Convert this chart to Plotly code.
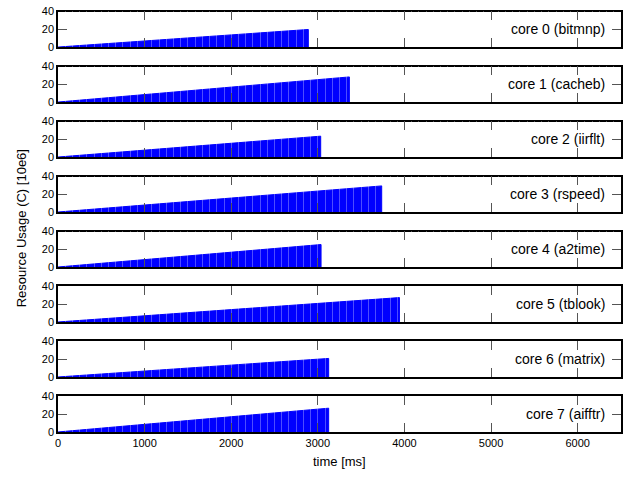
import plotly.graph_objects as go

# data
cores = ["core 0 (bitmnp)", "core 1 (cacheb)", "core 2 (iirflt)", "core 3 (rspeed)",
         "core 4 (a2time)", "core 5 (tblook)", "core 6 (matrix)", "core 7 (aifftr)"]
end_time = [2890, 3364, 3033, 3738, 3037, 3942, 3125, 3125]      # ms
peak_usage = [19.8, 28.3, 23.5, 29.4, 25.3, 27.5, 20.9, 26.8]    # 10e6
x_ticks = [0, 1000, 2000, 3000, 4000, 5000, 6000]
y_ticks = [0, 20, 40]
bin_ms = 1000 / 12   # width of the histogram bins

W, H = 638, 479
L, R = 58, 621
FONT = "Liberation Sans, Arial, Helvetica, sans-serif"
fig = go.Figure()

top0, pitch, ph = 5.7, 56.4, 36.4
for i, name in enumerate(cores):
    xa = "x" if i == 0 else f"x{i+1}"
    ya = "y" if i == 0 else f"y{i+1}"
    fig.add_trace(go.Scatter(
        x=[0, end_time[i], end_time[i]], y=[0, peak_usage[i], 0],
        mode="lines", line=dict(color="#0000ff", width=1),
        fill="toself", fillcolor="#0000ff",
        xaxis=xa, yaxis=ya, showlegend=False, hoverinfo="skip"))
    top = top0 + pitch * i
    bot = top + ph
    dom = [1 - bot / H, 1 - top / H]
    xkey = "xaxis" if i == 0 else f"xaxis{i+1}"
    ykey = "yaxis" if i == 0 else f"yaxis{i+1}"
    fig.layout[xkey] = dict(
        range=[0, 6500], anchor=ya, domain=[0, 1], layer="above traces",
        showline=True, linecolor="black", linewidth=1.5, mirror="ticks",
        ticks="inside", ticklen=9, tickcolor="#555555", tickwidth=1,
        tickvals=x_ticks, showticklabels=(i == len(cores) - 1),
        tickfont=dict(family=FONT, size=11, color="black"),
        minor=dict(ticks="inside", tick0=0, dtick=bin_ms, ticklen=int(ph / 2) + 1,
                   tickcolor="rgba(255,255,255,0.3)", tickwidth=1, showgrid=False),
        showgrid=False, zeroline=False, fixedrange=True,
        matches=None if i == 0 else "x")
    fig.layout[ykey] = dict(
        range=[0, 40], anchor=xa, domain=dom, layer="above traces",
        showline=True, linecolor="black", linewidth=1.5, mirror="ticks",
        ticks="inside", ticklen=9, tickcolor="#555555", tickwidth=1,
        tickvals=y_ticks, tickfont=dict(family=FONT, size=11, color="black"),
        showgrid=False, zeroline=False, fixedrange=True)
    fig.add_annotation(
        x=6340, y=20, xref=xa, yref=ya, text=name, showarrow=False,
        xanchor="right", yanchor="middle",
        font=dict(family=FONT, size=14, color="black"))

fig.add_annotation(x=0.5, y=1 - 467 / H, xref="paper", yref="paper", text="time [ms]",
                   showarrow=False, xanchor="center", yanchor="middle",
                   font=dict(family=FONT, size=13, color="black"))
fig.add_annotation(x=(21 - L) / (R - L), y=1 - 228 / H, xref="paper", yref="paper",
                   text="Resource Usage (C) [10e6]", textangle=-90, showarrow=False,
                   xanchor="center", yanchor="middle",
                   font=dict(family=FONT, size=13, color="black"))

fig.update_layout(width=W, height=H, margin=dict(l=L, r=W - R, t=0, b=0),
                  paper_bgcolor="white", plot_bgcolor="white")
fig.write_html("out.html", config={"displayModeBar": False},
               post_script="document.body.style.margin='0';document.body.style.overflow='hidden';")
